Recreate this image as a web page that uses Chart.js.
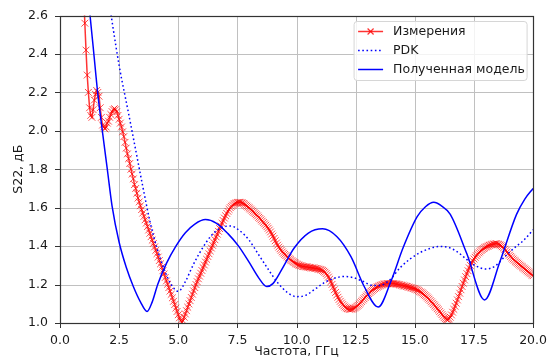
<!DOCTYPE html>
<html>
<head>
<meta charset="utf-8">
<script src="https://cdn.jsdelivr.net/npm/chart.js@4.4.1/dist/chart.umd.min.js"></script>
<style>
html, body { margin: 0; padding: 0; background: #fff; }
#wrap { width: 553px; height: 360px; }
</style>
</head>
<body>
<div id="wrap"><canvas id="c"></canvas></div>
<script>
// measurement grid, GHz
const measStart = 1.0;
const measStep = 0.05;

// measured S22, one row per GHz (1.00 ... 1.95, 2.00 ... 2.95, ...)
const measS22 = [
    2.72, 2.56, 2.42, 2.29, 2.20, 2.12, 2.08, 2.07, 2.11, 2.16, 2.19, 2.21, 2.20, 2.18, 2.12, 2.07, 2.03, 2.02, 2.01, 2.02,
    2.04, 2.05, 2.07, 2.085, 2.10, 2.11, 2.115, 2.11, 2.10, 2.08, 2.06, 2.04, 2.02, 1.995, 1.97, 1.94, 1.91, 1.88, 1.855, 1.83,
    1.80, 1.775, 1.75, 1.72, 1.70, 1.675, 1.65, 1.63, 1.61, 1.59, 1.572, 1.555, 1.537, 1.52, 1.502, 1.484, 1.467, 1.449, 1.431, 1.414,
    1.396, 1.378, 1.361, 1.343, 1.325, 1.308, 1.29, 1.272, 1.255, 1.237, 1.219, 1.202, 1.184, 1.166, 1.149, 1.131, 1.113, 1.096, 1.078, 1.06,
    1.043, 1.027, 1.012, 1.005, 1.012, 1.03, 1.047, 1.064, 1.082, 1.099, 1.116, 1.133, 1.15, 1.167, 1.184, 1.20, 1.215, 1.23, 1.244, 1.259,
    1.273, 1.288, 1.302, 1.317, 1.331, 1.346, 1.36, 1.375, 1.39, 1.404, 1.419, 1.433, 1.448, 1.462, 1.477, 1.491, 1.505, 1.519, 1.533, 1.546,
    1.558, 1.57, 1.581, 1.591, 1.60, 1.607, 1.613, 1.618, 1.622, 1.625, 1.627, 1.628, 1.628, 1.627, 1.625, 1.622, 1.618, 1.613, 1.608, 1.603,
    1.598, 1.593, 1.587, 1.581, 1.575, 1.569, 1.563, 1.557, 1.55, 1.544, 1.537, 1.53, 1.523, 1.516, 1.509, 1.501, 1.493, 1.484, 1.474, 1.463,
    1.452, 1.44, 1.428, 1.416, 1.405, 1.395, 1.386, 1.378, 1.37, 1.363, 1.357, 1.351, 1.345, 1.339, 1.334, 1.329, 1.324, 1.319, 1.315, 1.311,
    1.307, 1.304, 1.301, 1.299, 1.297, 1.295, 1.294, 1.293, 1.292, 1.291, 1.29, 1.289, 1.288, 1.287, 1.286, 1.285, 1.284, 1.283, 1.282, 1.28,
    1.278, 1.276, 1.273, 1.269, 1.264, 1.257, 1.249, 1.239, 1.228, 1.215, 1.201, 1.187, 1.173, 1.159, 1.146, 1.134, 1.123, 1.113, 1.104, 1.096,
    1.089, 1.083, 1.078, 1.075, 1.073, 1.072, 1.072, 1.073, 1.075, 1.078, 1.082, 1.087, 1.092, 1.098, 1.105, 1.112, 1.119, 1.126, 1.133, 1.14,
    1.147, 1.153, 1.159, 1.165, 1.17, 1.175, 1.179, 1.183, 1.187, 1.19, 1.193, 1.196, 1.198, 1.2, 1.202, 1.203, 1.204, 1.205, 1.206, 1.206,
    1.206, 1.206, 1.205, 1.204, 1.203, 1.202, 1.201, 1.199, 1.198, 1.196, 1.195, 1.193, 1.192, 1.19, 1.189, 1.187, 1.185, 1.183, 1.181, 1.179,
    1.178, 1.175, 1.172, 1.169, 1.165, 1.161, 1.157, 1.152, 1.147, 1.142, 1.136, 1.13, 1.124, 1.117, 1.11, 1.103, 1.096, 1.089, 1.082, 1.075,
    1.068, 1.06, 1.052, 1.044, 1.036, 1.029, 1.023, 1.019, 1.018, 1.022, 1.03, 1.042, 1.056, 1.071, 1.087, 1.103, 1.12, 1.137, 1.155, 1.173,
    1.19, 1.207, 1.224, 1.241, 1.257, 1.272, 1.287, 1.30, 1.312, 1.323, 1.333, 1.342, 1.35, 1.358, 1.365, 1.371, 1.377, 1.382, 1.387, 1.391,
    1.395, 1.398, 1.401, 1.404, 1.406, 1.408, 1.41, 1.411, 1.412, 1.412, 1.411, 1.409, 1.406, 1.402, 1.397, 1.391, 1.384, 1.377, 1.369, 1.361,
    1.353, 1.346, 1.339, 1.333, 1.327, 1.321, 1.316, 1.311, 1.306, 1.301, 1.296, 1.291, 1.286, 1.281, 1.276, 1.271, 1.266, 1.261, 1.256, 1.251, 1.246
];

const pdkFreq = [1.0, 1.5, 2.0, 2.5, 2.9, 3.2, 3.5, 3.8, 4.1, 4.4, 4.7, 5.0, 5.3, 5.6, 6.0, 6.4, 6.8, 7.2, 7.6, 8.0,
    8.4, 8.8, 9.2, 9.6, 10.0, 10.4, 10.8, 11.2, 11.6, 12.0, 12.4, 12.8, 13.2, 13.5, 13.9, 14.4, 14.8, 15.2, 15.6, 16.0,
    16.4, 16.8, 17.2, 17.6, 18.0, 18.4, 18.8, 19.2, 19.6, 20.0];
const pdkS22 = [3.60, 3.12, 2.73, 2.34, 2.09, 1.90, 1.71, 1.53, 1.39, 1.28, 1.20, 1.165, 1.215, 1.295, 1.385, 1.455, 1.495, 1.505, 1.48, 1.43,
    1.355, 1.28, 1.21, 1.16, 1.137, 1.145, 1.178, 1.212, 1.233, 1.242, 1.236, 1.217, 1.196, 1.195, 1.22, 1.29, 1.333, 1.365, 1.386, 1.398,
    1.394, 1.37, 1.33, 1.296, 1.281, 1.297, 1.345, 1.39, 1.43, 1.485];

const modelFreq = [1.0, 1.27, 1.4, 1.6, 1.8, 2.0, 2.2, 2.5, 2.8, 3.1, 3.4, 3.68, 3.9, 4.13, 4.5, 4.9, 5.3, 5.7, 6.15, 6.6,
    7.1, 7.55, 8.0, 8.4, 8.74, 9.0, 9.36, 9.9, 10.5, 11.1, 11.7, 12.3, 12.86, 13.45, 14.0, 14.5, 15.1, 15.45, 15.8, 16.1,
    16.5, 17.2, 17.95, 18.6, 19.3, 19.65, 20.0];
const modelS22 = [2.95, 2.60, 2.44, 2.19, 1.99, 1.80, 1.61, 1.42, 1.29, 1.19, 1.11, 1.06, 1.11, 1.20, 1.31, 1.40, 1.47, 1.515, 1.538, 1.52,
    1.465, 1.40, 1.315, 1.235, 1.19, 1.205, 1.275, 1.39, 1.468, 1.49, 1.45, 1.345, 1.19, 1.083, 1.22, 1.39, 1.553, 1.605, 1.628, 1.612,
    1.565, 1.36, 1.12, 1.32, 1.565, 1.645, 1.70];

const xTicks = [0, 2.5, 5, 7.5, 10, 12.5, 15, 17.5, 20];
const yTicks = [1.0, 1.2, 1.4, 1.6, 1.8, 2.0, 2.2, 2.4, 2.6];
const seriesNames = ['Измерения', 'PDK', 'Полученная модель'];

const measFreq = measS22.map((v, i) => +(measStart + i * measStep).toFixed(2));
const pts = (xs, ys) => xs.map((x, i) => ({ x: x, y: ys[i] }));

const font = { family: 'DejaVu Sans', size: 12.5 };
const textColor = '#1a1a1a';
const gridColor = '#c0c0c0';
const spineColor = '#333333';

// pixel of a tick value on a scale (falls back to the scale's own extent)
function tickPixel(scale, v) {
    let p = Number(scale.getPixelForValue(Number(v)));
    if (!isFinite(p)) {
        const t = (Number(v) - scale.min) / (scale.max - scale.min);
        p = scale.isHorizontal() ? scale.left + t * scale.width : scale.bottom - t * scale.height;
    }
    return Math.round(p);
}

// grid under the data
const gridUnder = {
    id: 'gridUnder',
    beforeDatasetsDraw(chart) {
        const ctx = chart.ctx, a = chart.chartArea;
        const top = Math.round(a.top), bottom = Math.round(a.bottom);
        const left = Math.round(a.left), right = Math.round(a.right);
        ctx.save();
        ctx.globalAlpha = 1;
        ctx.globalCompositeOperation = 'source-over';
        ctx.fillStyle = gridColor;
        xTicks.forEach(v => {
            const px = tickPixel(chart.scales.x, v);
            ctx.fillRect(px, top, 1, bottom - top);
        });
        yTicks.forEach(v => {
            const py = tickPixel(chart.scales.y, v);
            ctx.fillRect(left, py, right - left, 1);
        });
        ctx.restore();
    }
};

// tick marks, frame and legend (matplotlib look)
const axesDecor = {
    id: 'axesDecor',
    afterDatasetsDraw(chart) {
        const ctx = chart.ctx, a = chart.chartArea;
        const top = Math.round(a.top), bottom = Math.round(a.bottom);
        const left = Math.round(a.left), right = Math.round(a.right);
        ctx.save();
        ctx.globalAlpha = 1;
        ctx.fillStyle = spineColor;
        xTicks.forEach(v => {
            const px = tickPixel(chart.scales.x, v);
            ctx.fillRect(px, bottom, 1, 5);
        });
        yTicks.forEach(v => {
            const py = tickPixel(chart.scales.y, v);
            ctx.fillRect(left - 5, py, 5, 1);
        });
        ctx.strokeStyle = spineColor;
        ctx.lineWidth = 1.2;
        ctx.strokeRect(left + 0.5, top + 0.5, right - left, bottom - top);

        const w = 173, h = 59;
        const x0 = a.right - 6 - w, y0 = a.top + 6;
        ctx.beginPath();
        ctx.roundRect(x0, y0, w, h, 3);
        ctx.fillStyle = 'rgba(255,255,255,0.8)';
        ctx.fill();
        ctx.strokeStyle = '#d6d6d6';
        ctx.lineWidth = 1;
        ctx.stroke();

        ctx.font = '12.5px "DejaVu Sans"';
        ctx.textBaseline = 'middle';
        ctx.fillStyle = textColor;
        chart.data.datasets.forEach((ds, i) => {
            const cy = y0 + 10 + i * 19;
            ctx.save();
            ctx.strokeStyle = ds.borderColor;
            ctx.lineWidth = ds.borderWidth;
            ctx.setLineDash(ds.borderDash || []);
            ctx.beginPath();
            ctx.moveTo(x0 + 4, cy);
            ctx.lineTo(x0 + 29, cy);
            ctx.stroke();
            ctx.setLineDash([]);
            if (ds.pointRadius > 0) {
                const r = 3, cx = x0 + 16.5;
                ctx.lineWidth = 1.2;
                ctx.beginPath();
                ctx.moveTo(cx - r, cy - r); ctx.lineTo(cx + r, cy + r);
                ctx.moveTo(cx - r, cy + r); ctx.lineTo(cx + r, cy - r);
                ctx.stroke();
            }
            ctx.restore();
            ctx.fillText(seriesNames[i], x0 + 39, cy);
        });
        ctx.restore();
    }
};

new Chart(document.getElementById('c'), {
    type: 'line',
    data: {
        datasets: [{
            label: seriesNames[0],
            data: pts(measFreq, measS22),
            borderColor: 'rgba(255,0,0,0.8)',
            backgroundColor: 'rgba(255,0,0,0.8)',
            borderWidth: 1.5,
            pointStyle: 'crossRot',
            pointRadius: 4.8,
            pointBorderWidth: 1,
            pointBorderColor: 'rgba(255,0,0,0.7)',
            tension: 0,
            order: 3
        }, {
            label: seriesNames[1],
            data: pts(pdkFreq, pdkS22),
            borderColor: '#0000ff',
            borderWidth: 1.5,
            borderDash: [1.6, 2.6],
            pointRadius: 0,
            cubicInterpolationMode: 'monotone',
            order: 2
        }, {
            label: seriesNames[2],
            data: pts(modelFreq, modelS22),
            borderColor: '#0000ff',
            borderWidth: 1.5,
            pointRadius: 0,
            cubicInterpolationMode: 'monotone',
            order: 1
        }]
    },
    options: {
        responsive: true,
        maintainAspectRatio: false,
        animation: false,
        devicePixelRatio: 1,
        layout: { padding: { top: 15, right: 16, left: 0, bottom: 0 } },
        plugins: { legend: { display: false }, tooltip: { enabled: false } },
        scales: {
            x: {
                type: 'linear', min: 0, max: 20,
                afterBuildTicks: s => { s.ticks = xTicks.map(v => ({ value: v })); },
                afterFit: s => { s.height = 37; },
                border: { display: false },
                grid: { display: false, tickLength: 4 },
                ticks: { color: textColor, font: font, padding: 6, maxRotation: 0, callback: v => v.toFixed(1) },
                title: { display: true, text: 'Частота, ГГц', color: textColor, font: font, padding: { top: 0, bottom: 1 } }
            },
            y: {
                type: 'linear', min: 1.0, max: 2.6,
                afterBuildTicks: s => { s.ticks = yTicks.map(v => ({ value: v })); },
                afterFit: s => { s.width = 60; },
                border: { display: false },
                grid: { display: false, tickLength: 4 },
                ticks: { color: textColor, font: font, padding: 8, callback: v => v.toFixed(1) },
                title: { display: true, text: 'S22, дБ', color: textColor, font: font, padding: { top: 11, bottom: 0 } }
            }
        }
    },
    plugins: [gridUnder, axesDecor]
});
</script>
</body>
</html>
